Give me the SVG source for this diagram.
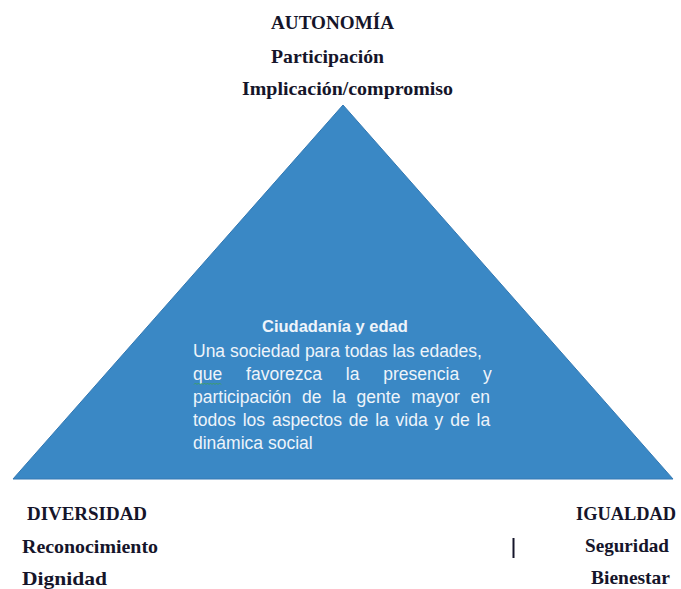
<svg xmlns="http://www.w3.org/2000/svg" width="681" height="589" viewBox="0 0 681 589">
<style>
.lbl{font-family:"Liberation Serif","Times New Roman",serif;font-weight:bold;font-size:19px;fill:#15152a}
.ttl{font-family:"Liberation Sans",Arial,sans-serif;font-weight:bold;font-size:16.5px;fill:#eef4fa}
.body{font-family:"Liberation Sans",Arial,sans-serif;font-size:17.5px;fill:#eef4fa}
</style>
<rect width="681" height="589" fill="#ffffff"/>
<g id="triangle">
<polygon points="343,105 13,479 673,479" fill="#3a88c5" stroke="#3479b3" stroke-width="1"/>
</g>
<g id="center-text">
<text class="ttl" x="262" y="332">Ciudadanía y edad</text>
<text class="body" x="193" y="357">Una sociedad para todas las edades,</text>
<text class="body" x="193" y="380" word-spacing="19">que favorezca la presencia y</text>
<text class="body" x="193" y="403" word-spacing="5.9">participación de la gente mayor en</text>
<text class="body" x="193" y="426" word-spacing="2">todos los aspectos de la vida y de la</text>
<text class="body" x="193" y="449">dinámica social</text>
<path d="M194,384.5 l1.5,-1.5 l1.5,1.5 l1.5,-1.5 l1.5,1.5 l1.5,-1.5 l1.5,1.5 l1.5,-1.5 l1.5,1.5 l1.5,-1.5 l1.5,1.5 l1.5,-1.5 l1.5,1.5 l1.5,-1.5 l1.5,1.5 l1.5,-1.5 l1.5,1.5 l1.5,-1.5 l1.5,1.5" fill="none" stroke="#3fa34d" stroke-width="0.8"/>
</g>
<g id="autonomia">
<text class="lbl" x="271" y="29" textLength="123" lengthAdjust="spacingAndGlyphs">AUTONOMÍA</text>
<text class="lbl" x="271" y="63" textLength="113" lengthAdjust="spacingAndGlyphs">Participación</text>
<text class="lbl" x="242" y="95" textLength="211" lengthAdjust="spacingAndGlyphs">Implicación/compromiso</text>
</g>
<g id="diversidad">
<text class="lbl" x="27" y="520" textLength="120" lengthAdjust="spacingAndGlyphs">DIVERSIDAD</text>
<text class="lbl" x="22" y="553" textLength="136" lengthAdjust="spacingAndGlyphs">Reconocimiento</text>
<text class="lbl" x="22" y="585" textLength="85" lengthAdjust="spacingAndGlyphs">Dignidad</text>
</g>
<g id="igualdad">
<text class="lbl" x="576" y="520" textLength="100" lengthAdjust="spacingAndGlyphs">IGUALDAD</text>
<text class="lbl" x="585" y="552" textLength="84" lengthAdjust="spacingAndGlyphs">Seguridad</text>
<text class="lbl" x="591" y="584" textLength="79" lengthAdjust="spacingAndGlyphs">Bienestar</text>
<line x1="513.5" y1="538" x2="513.5" y2="558" stroke="#15152a" stroke-width="2"/>
</g>
</svg>
